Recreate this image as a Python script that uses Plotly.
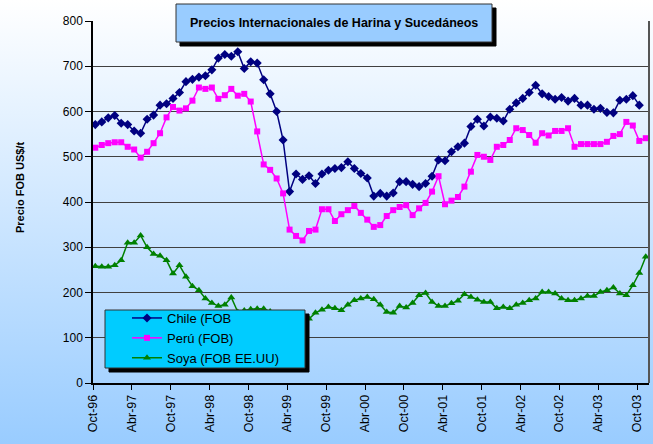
import base64

import plotly.graph_objects as go

# ---------------------------------------------------------------------------
# Data: monthly FOB prices (US$/t), Oct-96 onwards
# ---------------------------------------------------------------------------
tick_labels = [
    "Oct-96", "Abr-97", "Oct-97", "Abr-98", "Oct-98", "Abr-99", "Oct-99", "Abr-00",
    "Oct-00", "Abr-01", "Oct-01", "Abr-02", "Oct-02", "Abr-03", "Oct-03",
]

chile = [
    571, 577, 586, 591, 574, 571, 557, 552, 583, 592,
    614, 617, 629, 642, 666, 671, 676, 679, 692, 718,
    726, 722, 732, 695, 710, 707, 670, 639, 600, 537,
    423, 462, 450, 458, 441, 462, 470, 474, 476, 489,
    474, 463, 453, 413, 419, 413, 420, 445, 445, 439,
    434, 441, 457, 493, 491, 511, 522, 530, 567, 583,
    568, 588, 585, 579, 605, 619, 629, 642, 658, 639,
    633, 627, 631, 623, 629, 614, 614, 605, 607, 598,
    597, 625, 627, 635, 614,
]

peru = [
    520, 526, 530, 532, 532, 522, 516, 498, 511, 530,
    552, 587, 610, 602, 607, 624, 653, 650, 653, 628,
    636, 650, 635, 639, 622, 556, 483, 471, 452, 419,
    339, 325, 315, 336, 339, 384, 384, 358, 373, 382,
    391, 376, 361, 345, 349, 369, 382, 389, 393, 371,
    386, 398, 423, 457, 395, 403, 411, 434, 467, 504,
    500, 493, 522, 526, 537, 563, 559, 548, 531, 552,
    547, 557, 557, 563, 522, 528, 528, 528, 528, 533,
    546, 550, 577, 569, 535, 541,
]

soya = [
    258, 257, 257, 260, 271, 310, 310, 326, 300, 285,
    281, 271, 242, 260, 235, 214, 205, 187, 177, 170,
    173, 189, 157, 160, 163, 164, 164, 158, 152, 148,
    145, 140, 138, 142, 155, 162, 168, 165, 161, 173,
    183, 187, 190, 185, 173, 157, 155, 170, 167, 177,
    194, 199, 179, 170, 170, 176, 182, 196, 190, 184,
    179, 179, 165, 168, 165, 173, 177, 183, 187, 201,
    201, 198, 187, 183, 183, 187, 192, 192, 201, 205,
    211, 198, 194, 216, 243, 279,
]

# ---------------------------------------------------------------------------
# Look
# ---------------------------------------------------------------------------
W, H = 653, 444
ML, MR, MT, MB = 93, 4, 21, 61
PW, PH = W - ML - MR, H - MT - MB

FONT = "Liberation Sans, Arial"


def px(x):
    """pixel x -> paper x"""
    return (x - ML) / PW


def py(y):
    """pixel y (from top) -> paper y"""
    return (H - MB - y) / PH


def box(x0, y0, x1, y1, fill, line=None):
    return dict(
        type="rect", xref="paper", yref="paper", layer="above",
        x0=px(x0), x1=px(x1), y0=py(y1), y1=py(y0),
        fillcolor=fill,
        line=dict(color=line or fill, width=1),
    )


gradient_svg = (
    "<svg xmlns='http://www.w3.org/2000/svg' width='653' height='444'>"
    "<defs><linearGradient id='g' x1='0' y1='0' x2='0' y2='1'>"
    "<stop offset='0' stop-color='#ffffff'/><stop offset='1' stop-color='#99ccff'/>"
    "</linearGradient></defs><rect width='653' height='444' fill='url(#g)'/></svg>"
)
gradient_src = "data:image/svg+xml;base64," + base64.b64encode(gradient_svg.encode()).decode()

fig = go.Figure()

series = [
    ("Chile (FOB", chile, "#000080", "diamond", 7),
    ("Perú (FOB)", peru, "#ff00ff", "square", 6),
    ("Soya (FOB EE.UU)", soya, "#008000", "triangle-up", 7),
]
for name, vals, color, symbol, size in series:
    fig.add_trace(go.Scatter(
        x=list(range(len(vals))),
        y=vals,
        name=name,
        mode="lines+markers",
        line=dict(color=color, width=1.5),
        marker=dict(symbol=symbol, size=size, color=color),
    ))

tick_pos = [6 * k - 0.35 for k in range(len(tick_labels))]

fig.update_layout(
    width=W, height=H,
    margin=dict(l=ML, r=MR, t=MT, b=MB),
    paper_bgcolor="white",
    plot_bgcolor="rgba(0,0,0,0)",
    images=[dict(
        source=gradient_src, xref="paper", yref="paper",
        x=px(0), y=py(0), sizex=W / PW, sizey=H / PH,
        xanchor="left", yanchor="top", sizing="stretch", layer="below",
    )],
    xaxis=dict(
        range=[-0.355, 85.5],
        tickvals=tick_pos, ticktext=tick_labels, tickangle=-90,
        ticks="outside", ticklen=5, tickcolor="black",
        tickfont=dict(family=FONT, size=12.5, color="black"),
        showline=True, linecolor="black", linewidth=1.5,
        showgrid=False, zeroline=False,
    ),
    yaxis=dict(
        range=[0, 800], dtick=100,
        ticks="outside", ticklen=6, tickcolor="black",
        tickfont=dict(family=FONT, size=12, color="black"),
        showline=True, linecolor="black", linewidth=1.5,
        showgrid=True, gridcolor="#404040", gridwidth=1,
        zeroline=False,
    ),
    legend=dict(
        x=px(127), y=py(303), xanchor="left", yanchor="top",
        bgcolor="rgba(0,0,0,0)", borderwidth=0,
        font=dict(family=FONT, size=13, color="black"),
        tracegroupgap=0,
    ),
    shapes=[
        # right frame of plot area
        dict(type="line", xref="paper", yref="paper", x0=1, x1=1, y0=0, y1=1,
             line=dict(color="#555555", width=2)),
        # title box + shadow
        box(180, 8, 496, 46, "black"),
        box(176, 4, 492, 42, "#99ccff", "#333333"),
        # legend box + shadow
        box(109, 314, 309, 372, "black"),
        box(105, 310, 305, 368, "#00ccff", "#333333"),
    ],
    annotations=[
        dict(
            text="<b>Precios Internacionales de Harina y Sucedáneos</b>",
            xref="paper", yref="paper", x=px(334), y=py(23),
            xanchor="center", yanchor="middle", showarrow=False,
            font=dict(family=FONT, size=12.5, color="black"),
        ),
        dict(
            text="<b>Precio FOB US$/t</b>",
            xref="paper", yref="paper", x=px(20), y=py(188),
            xanchor="center", yanchor="middle", showarrow=False, textangle=-90,
            font=dict(family=FONT, size=11, color="black"),
        ),
    ],
)

# the page body has a default 8px margin; drop it so the figure fills the window
fig.write_html(
    "out.html",
    config={"displayModeBar": False},
    post_script="document.body.style.margin = '0';",
)
